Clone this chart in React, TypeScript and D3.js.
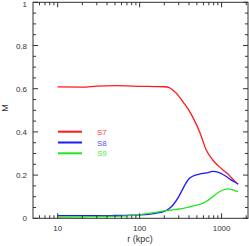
import React from "react";
import * as d3 from "d3";

const radii = [10, 20, 30, 50, 70, 100, 150, 200, 230, 260, 300, 340, 400, 450, 540, 650, 780, 900, 1040, 1200, 1300, 1450, 1590];
const s7 = [0.608, 0.607, 0.612, 0.614, 0.613, 0.611, 0.610, 0.609, 0.605, 0.590, 0.566, 0.538, 0.50, 0.465, 0.40, 0.316, 0.27, 0.245, 0.224, 0.205, 0.19, 0.172, 0.159];
const s8 = [0.012, 0.012, 0.012, 0.013, 0.014, 0.016, 0.022, 0.032, 0.045, 0.065, 0.1, 0.14, 0.183, 0.196, 0.205, 0.210, 0.217, 0.214, 0.203, 0.188, 0.178, 0.168, 0.158];
const s9 = [0.006, 0.007, 0.008, 0.009, 0.011, 0.017, 0.026, 0.034, 0.037, 0.040, 0.043, 0.046, 0.052, 0.057, 0.064, 0.078, 0.1, 0.118, 0.131, 0.136, 0.134, 0.128, 0.123];
const seriesNames = ["S7", "S8", "S9"];
const seriesColors = ["#ff1a1a", "#1a1aff", "#22e622"];
const labelColors = ["#ff4444", "#5555ff", "#44ee44"];
const xTickValues = [10, 100, 1000];
const yTickValues = [0, 0.2, 0.4, 0.6, 0.8, 1];

export default function App() {
  const W = 249, H = 246;
  const L = 33, R = 248, T = 2.3, B = 218.3;
  const x = d3.scaleLog().domain([5, 2100]).range([L, R]);
  const y = d3.scaleLinear().domain([0, 1]).range([B, T]);
  const data = [s7, s8, s9];
  const line = d3
    .line<number>()
    .x((_, i) => x(radii[i]))
    .y((d) => y(d))
    .curve(d3.curveMonotoneX);

  const minorX: number[] = [];
  for (const dec of [1, 10, 100, 1000]) {
    for (let k = 2; k <= 9; k++) {
      const v = dec * k;
      if (v > 5 && v < 2100) minorX.push(v);
    }
  }
  const minorY: number[] = [];
  for (let v = 0.05; v < 1; v += 0.05) {
    if (Math.abs(v / 0.2 - Math.round(v / 0.2)) > 0.01) minorY.push(v);
  }
  const ax = "#333";
  const font = "'Liberation Sans', Arial, sans-serif";
  const maj = 5, mn = 3;

  return (
    <svg width={W} height={H} style={{ position: "absolute", left: 0, top: 0 }}>
      <rect x={0} y={0} width={W} height={H} fill="white" />
      {data.map((d, i) => (
        <path key={i} d={line(d) || ""} fill="none" stroke={seriesColors[i]} strokeWidth={1.3} />
      ))}
      <rect x={L} y={T} width={R - L} height={B - T} fill="none" stroke={ax} strokeWidth={1} />
      {xTickValues.map((v) => (
        <g key={"xt" + v}>
          <line x1={x(v)} x2={x(v)} y1={B} y2={B - maj} stroke={ax} />
          <line x1={x(v)} x2={x(v)} y1={T} y2={T + maj} stroke={ax} />
          <text x={x(v)} y={B + 13} fontSize={8} fill={ax} textAnchor="middle" fontFamily={font}>
            {v}
          </text>
        </g>
      ))}
      {minorX.map((v) => (
        <g key={"xm" + v}>
          <line x1={x(v)} x2={x(v)} y1={B} y2={B - mn} stroke={ax} />
          <line x1={x(v)} x2={x(v)} y1={T} y2={T + mn} stroke={ax} />
        </g>
      ))}
      {yTickValues.map((v) => (
        <g key={"yt" + v}>
          <line x1={L} x2={L + maj} y1={y(v)} y2={y(v)} stroke={ax} />
          <line x1={R} x2={R - maj} y1={y(v)} y2={y(v)} stroke={ax} />
          <text x={L - 6} y={Math.max(y(v) + 3, 7)} fontSize={8} fill={ax} textAnchor="end" fontFamily={font}>
            {v}
          </text>
        </g>
      ))}
      {minorY.map((v) => (
        <g key={"ym" + v}>
          <line x1={L} x2={L + mn} y1={y(v)} y2={y(v)} stroke={ax} />
          <line x1={R} x2={R - mn} y1={y(v)} y2={y(v)} stroke={ax} />
        </g>
      ))}
      <text x={140} y={242} fontSize={9} fill={ax} textAnchor="middle" fontFamily={font}>
        r (kpc)
      </text>
      <text
        transform="translate(8,108) rotate(-90)"
        fontSize={9}
        fill={ax}
        textAnchor="middle"
        fontFamily={font}
      >
        M
      </text>
      {seriesNames.map((n, i) => (
        <g key={n}>
          <line x1={58} x2={82} y1={131.7 + i * 10.8} y2={131.7 + i * 10.8} stroke={seriesColors[i]} strokeWidth={2} />
          <text x={97} y={131.7 + i * 10.8 + 3} fontSize={8} fill={labelColors[i]} fontFamily={font}>
            {n}
          </text>
        </g>
      ))}
    </svg>
  );
}
